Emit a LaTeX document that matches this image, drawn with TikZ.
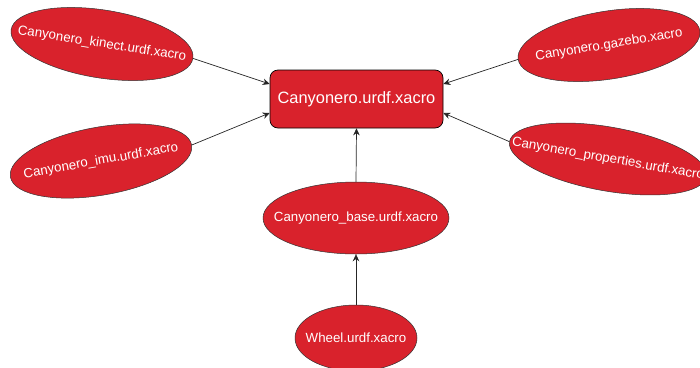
\documentclass[tikz,border=0pt]{standalone}
\usepackage{fontspec}
\setmainfont{Liberation Sans}
\usetikzlibrary{shapes.geometric,arrows.meta}
\definecolor{fillred}{HTML}{D9222C}
\definecolor{edgegray}{HTML}{333333}
% keep a label from widening its ellipse
\newcommand\zerowidth[1]{\makebox[0pt]{#1}}
\begin{document}
\begin{tikzpicture}[x=1bp,y=-1bp,
  filebubble/.style={ellipse, fill=fillred, draw=edgegray, line width=0.5bp,
    inner sep=0pt, text=white, font=\fontsize{13.3bp}{16bp}\selectfont},
  mainbox/.style={rectangle, rounded corners=8bp, fill=fillred, draw=black,
    line width=0.7bp, inner sep=0pt, minimum width=173bp, minimum height=58bp,
    text=white, font=\fontsize{16.4bp}{19bp}\selectfont},
  link/.style={draw=black!85, line width=0.7bp, -{Stealth[length=7bp,width=6.5bp]}}]
\useasboundingbox (0,0) rectangle (700,367);

\node[mainbox] (box) at (356.5,99) {Canyonero.urdf.xacro};

\node[filebubble, rotate=-9, minimum width=184bp, minimum height=68bp]
  (kin) at (102,44) {\zerowidth{Canyonero\_kinect.urdf.xacro}};
\node[filebubble, rotate=10, minimum width=184bp, minimum height=68bp]
  (imu) at (101,161) {\zerowidth{Canyonero\_imu.urdf.xacro}};
\node[filebubble, rotate=9, minimum width=184bp, minimum height=68bp]
  (gaz) at (609,45) {\zerowidth{Canyonero.gazebo.xacro}};
\node[filebubble, rotate=-10, minimum width=200bp, minimum height=64bp]
  (prop) at (608,159) {\zerowidth{Canyonero\_properties.urdf.xacro}};
\node[filebubble, minimum width=186bp, minimum height=72bp]
  (base) at (356,218) {\zerowidth{Canyonero\_base.urdf.xacro}};
\node[filebubble, minimum width=122bp, minimum height=66bp]
  (wheel) at (356,338) {\zerowidth{Wheel.urdf.xacro}};

\draw[link] (kin.east) -- ([yshift=15bp]box.west);
\draw[link] (imu.east) -- ([yshift=-14bp]box.west);
\draw[link] (gaz.west) -- ([yshift=15bp]box.east);
\draw[link] (prop.west) -- ([yshift=-14bp]box.east);
\draw[link] (base.north) -- (box.south);
\draw[link] (wheel.north) -- (base.south);
\end{tikzpicture}
\end{document}
